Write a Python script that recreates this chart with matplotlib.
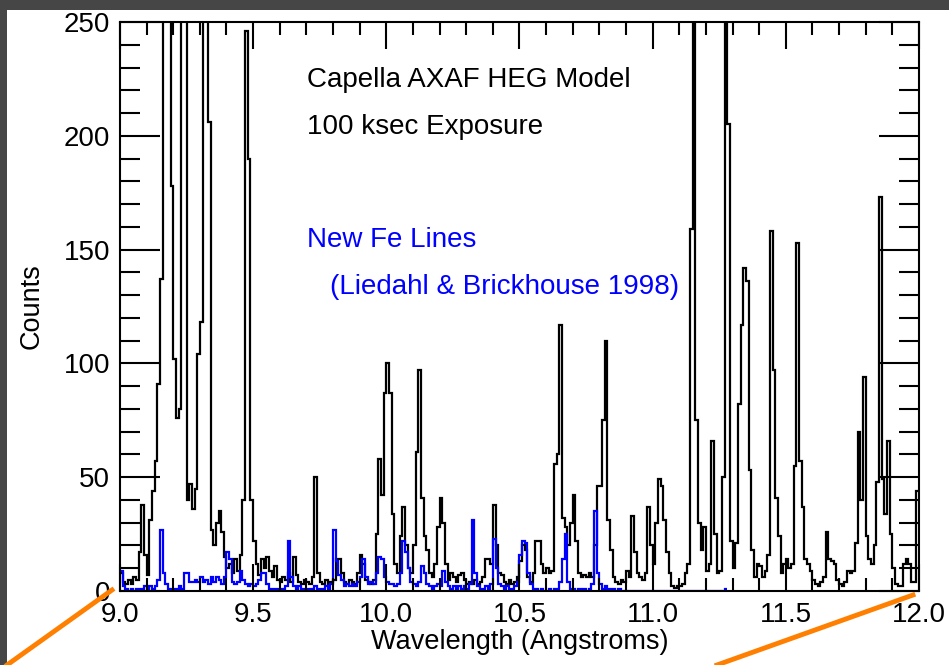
import numpy as np
import matplotlib.pyplot as plt
from matplotlib.lines import Line2D
from matplotlib.patches import Rectangle
from matplotlib.ticker import MultipleLocator, FormatStrFormatter

plt.rcParams['font.family'] = ['Liberation Sans', 'DejaVu Sans']

# wavelength grid of the model spectrum (Angstroms)
lam_start = 9.0
bin_width = 0.01

# Capella HEG model counts, one row per 0.1 A (values > 250 are off scale)
black_counts = [
    8, 4, 3, 5, 3, 6, 5, 17, 38, 16,             # 9.0
    7, 31, 44, 57, 91, 137, 300, 300, 300, 178,  # 9.1
    102, 76, 80, 300, 300, 40, 47, 36, 45, 104,  # 9.2
    118, 300, 300, 206, 27, 20, 30, 35, 26, 15,  # 9.3
    10, 12, 8, 14, 9, 16, 40, 246, 190, 40,      # 9.4
    22, 12, 7, 14, 10, 15, 9, 6, 11, 5,          # 9.5
    4, 6, 5, 8, 4, 15, 7, 4, 3, 5,               # 9.6
    4, 3, 6, 50, 8, 4, 3, 5, 3, 4,               # 9.7
    5, 14, 14, 8, 4, 3, 5, 4, 3, 8,              # 9.8
    16, 12, 5, 4, 3, 5, 25, 58, 42, 87,          # 9.9
    100, 87, 34, 12, 8, 24, 37, 20, 10, 8,       # 10.0
    20, 61, 97, 41, 24, 18, 8, 6, 12, 28,        # 10.1
    41, 30, 12, 5, 8, 6, 4, 7, 8, 5,             # 10.2
    3, 4, 3, 5, 3, 4, 6, 14, 14, 12,             # 10.3
    38, 20, 8, 7, 4, 3, 5, 3, 4, 6,              # 10.4
    13, 20, 18, 6, 4, 8, 22, 22, 12, 8,          # 10.5
    10, 8, 9, 56, 60, 117, 32, 28, 20, 30,       # 10.6
    42, 22, 8, 6, 7, 6, 8, 6, 20, 46,            # 10.7
    46, 75, 110, 31, 18, 6, 4, 3, 5, 4,          # 10.8
    9, 6, 33, 17, 8, 6, 5, 8, 37, 20,            # 10.9
    12, 30, 49, 46, 31, 17, 8, 2, 1.5, 2,        # 11.0
    2, 3, 8, 12, 159, 300, 75, 30, 18, 28,       # 11.1
    9, 12, 66, 25, 8, 9, 50, 300, 205, 22,       # 11.2
    10, 21, 82, 117, 142, 136, 53, 18, 6, 12,    # 11.3
    11, 6, 9, 16, 158, 97, 41, 24, 8, 12,        # 11.4
    14, 10, 12, 55, 153, 57, 37, 14, 12, 9,      # 11.5
    5, 3, 2, 4, 6, 26, 14, 13, 12, 5,            # 11.6
    3, 2, 4, 9, 8, 9, 21, 70, 40, 94,            # 11.7
    24, 14, 12, 20, 48, 173, 49, 34, 66, 25,     # 11.8
    10, 3, 2, 2, 12, 14, 12, 4, 4, 44,           # 11.9
]

# new Fe lines (Liedahl & Brickhouse 1998), same grid, ends near 11.28 A
blue_counts = [
    9, 2, 1, 0, 1, 0, 1, 0, 1, 2,        # 9.0
    1, 2, 1, 2, 5, 27, 8, 3, 1, 1,       # 9.1
    1, 1, 2, 1, 8, 8, 4, 4, 5, 4,        # 9.2
    6, 4, 5, 3, 6, 4, 6, 5, 3, 6,        # 9.3
    17, 14, 4, 3, 4, 9, 5, 3, 2, 3,      # 9.4
    2, 3, 5, 8, 8, 3, 1, 1, 1, 1,        # 9.5
    1, 1, 2, 22, 6, 2, 1, 2, 1, 1,       # 9.6
    1, 1, 1, 2, 1, 1, 1, 2, 1, 3,        # 9.7
    27, 13, 7, 5, 2, 3, 2, 3, 2, 4,      # 9.8
    6, 14, 6, 3, 4, 3, 8, 15, 14, 6,     # 9.9
    4, 3, 3, 2, 3, 8, 22, 17, 10, 4,     # 10.0
    3, 2, 4, 11, 8, 3, 2, 1, 2, 3,       # 10.1
    2, 9, 4, 2, 1, 2, 1, 2, 1, 2,        # 10.2
    1, 3, 31, 8, 2, 1, 1, 2, 1, 3,       # 10.3
    23, 10, 3, 2, 1, 2, 1, 1, 2, 4,      # 10.4
    16, 22, 21, 8, 3, 1, 1, 0, 1, 0,     # 10.5
    0, 1, 0, 1, 0, 4, 14, 25, 4, 1,      # 10.6
    1, 0, 1, 0, 1, 0, 1, 3, 35, 8,       # 10.7
    3, 1, 2, 1, 1, 1, 0, 1, 0, 0,        # 10.8
    0, 0, 0, 0, 0, 0, 0, 0, 0, 0,        # 10.9
    0, 0, 0, 0, 0, 0, 0, 0, 0, 0,        # 11.0
    0, 0, 0, 0, 0, 0, 0, 0, 0, 0,        # 11.1
    0, 0, 0, 0, 0, 0, 0, 1,              # 11.2
]

black_edges = lam_start + bin_width * np.arange(len(black_counts) + 1)
blue_edges = lam_start + bin_width * np.arange(len(blue_counts) + 1)

fig = plt.figure(figsize=(9.49, 6.65), dpi=100)
ax = fig.add_axes([0.1264, 0.1113, 0.8420, 0.8556])

ax.stairs(black_counts, black_edges, baseline=None, color='black', lw=1.6)
ax.stairs(blue_counts, blue_edges, baseline=None, color='#0000ff', lw=1.6)

ax.set_xlim(9.0, 12.0)
ax.set_ylim(0, 250)

ax.xaxis.set_major_locator(MultipleLocator(0.5))
ax.xaxis.set_minor_locator(MultipleLocator(0.1))
ax.xaxis.set_major_formatter(FormatStrFormatter('%.1f'))
ax.yaxis.set_major_locator(MultipleLocator(50))
ax.yaxis.set_minor_locator(MultipleLocator(10))

ax.tick_params(axis='both', which='both', direction='in', top=True, right=True,
               width=1.5, labelsize=20, colors='black')
ax.tick_params(axis='x', which='major', length=19.5, pad=8)
ax.tick_params(axis='x', which='minor', length=9.5)
ax.tick_params(axis='y', which='major', length=29, pad=7)
ax.tick_params(axis='y', which='minor', length=14.5)
for s in ax.spines.values():
    s.set_linewidth(1.5)

ax.set_xlabel('Wavelength (Angstroms)', fontsize=19.5, labelpad=1)
ax.set_ylabel('Counts', fontsize=19.5, labelpad=14)

ax.text(0.234, 0.898, 'Capella AXAF HEG Model', transform=ax.transAxes,
        fontsize=20, va='center', ha='left')
ax.text(0.234, 0.815, '100 ksec Exposure', transform=ax.transAxes,
        fontsize=20, va='center', ha='left')
ax.text(0.234, 0.617, 'New Fe Lines', transform=ax.transAxes,
        fontsize=20, va='center', ha='left', color='#0000ff')
ax.text(0.263, 0.534, '(Liedahl & Brickhouse 1998)', transform=ax.transAxes,
        fontsize=20, va='center', ha='left', color='#0000ff')

# slide frame and zoom guide lines
W, H = 949.0, 665.0
fig.add_artist(Rectangle((0, 1 - 10 / H), 1, 10 / H, transform=fig.transFigure,
                         color='#464646', lw=0))
fig.add_artist(Rectangle((0, 0), 7 / W, 1, transform=fig.transFigure,
                         color='#464646', lw=0))
fig.add_artist(Line2D([112 / W, 7 / W], [1 - 590 / H, 0], transform=fig.transFigure,
                      color='#ff8000', lw=3.5))
fig.add_artist(Line2D([913 / W, 717 / W], [1 - 595 / H, 0], transform=fig.transFigure,
                      color='#ff8000', lw=3.5))

fig.savefig('out.png', dpi=100)
